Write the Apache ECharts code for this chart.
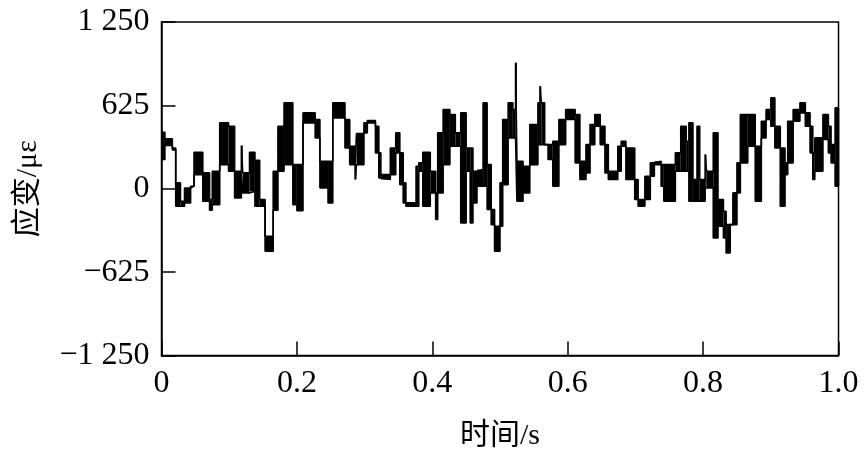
<!DOCTYPE html>
<html>
<head>
<meta charset="utf-8">
<script src="https://cdn.jsdelivr.net/npm/echarts@6/dist/echarts.min.js"></script>
<style>html,body{margin:0;padding:0;background:#fff}#c{width:865px;height:460px}</style>
</head>
<body>
<div id="c"></div>
<script>
// time (s) at which each step segment starts
var segT = [
0.000,0.005,0.016,0.021,0.028,0.034,0.043,0.048,0.061,0.071,
0.075,0.086,0.099,0.108,0.118,0.120,0.130,0.138,0.145,0.153,
0.165,0.172,0.181,0.194,0.200,0.209,0.227,0.234,0.246,0.253,
0.271,0.278,0.286,0.288,0.299,0.304,0.316,0.321,0.324,0.338,
0.346,0.352,0.357,0.361,0.376,0.380,0.386,0.397,0.405,0.408,
0.416,0.426,0.434,0.442,0.450,0.456,0.460,0.466,0.475,0.481,
0.487,0.492,0.500,0.504,0.512,0.519,0.523,0.525,0.534,0.544,
0.556,0.559,0.561,0.566,0.571,0.578,0.587,0.597,0.611,0.618,
0.627,0.633,0.640,0.648,0.655,0.660,0.674,0.679,0.686,0.699,
0.704,0.714,0.722,0.728,0.738,0.742,0.759,0.767,0.775,0.779,
0.785,0.791,0.795,0.803,0.805,0.815,0.822,0.830,0.834,0.840,
0.844,0.850,0.855,0.866,0.877,0.886,0.893,0.900,0.906,0.914,
0.921,0.925,0.933,0.943,0.951,0.958,0.962,0.965,0.977,0.985,
0.989,0.995,1.000];
// upper envelope of strain (με) within each segment
var segHi = [
424,374,305,44,-94,6,19,274,119,-81,
131,494,469,131,324,119,274,214,-81,-356,
131,469,644,181,181,569,519,206,206,644,
519,319,181,414,494,511,469,269,106,306,
419,269,44,-106,169,194,274,131,-31,419,
594,556,419,569,306,306,131,144,644,181,
-156,-281,44,519,644,594,944,206,169,481,
644,769,644,331,331,356,519,594,556,206,
331,481,556,469,331,131,319,356,306,69,
-81,94,194,206,181,181,269,469,356,494,
69,469,69,256,131,419,-81,-169,-269,-269,
-31,194,556,556,319,506,594,681,469,306,
194,506,594,644,569,469,269,381,556,469,
331,606,19];
// lower envelope of strain (με) within each segment
var segLo = [
219,324,290,-131,-131,-106,19,106,-94,-161,
-119,181,131,-69,119,-31,-19,-131,-131,-469,
-161,131,181,-119,-164,494,381,6,-106,531,
306,181,69,181,419,494,269,81,69,106,
269,31,-106,-131,-131,131,-131,-31,-231,-31,
181,319,319,-256,131,-256,-106,19,19,-156,
-269,-469,-281,31,381,381,381,-94,-31,181,
331,331,331,331,219,19,331,519,194,69,
119,331,469,331,119,69,131,319,69,-81,
-131,-81,94,181,19,-94,131,131,131,-94,
-94,-94,-94,6,6,-369,-281,-369,-481,-269,
-269,-31,194,319,-94,381,519,469,306,-131,
106,194,506,569,469,269,69,131,369,269,
194,19,19];

var xTickValues = [0, 0.2, 0.4, 0.6, 0.8, 1.0];
var xTickLabels = ['0', '0.2', '0.4', '0.6', '0.8', '1.0'];
var yTickValues = [-1250, -625, 0, 625, 1250];
var yTickLabels = ['\u22121 250', '\u2212625', '0', '625', '1 250'];

var hiData = segT.map(function (t, i) { return [t, segHi[i]]; });
var loData = segT.map(function (t, i) { return [t, segLo[i]]; });
var bandData = [];
for (var i = 0; i < segT.length - 1; i++) {
  bandData.push([segT[i], segT[i + 1], segHi[i], segLo[i]]);
}

function lookup(vals, labs, v) {
  for (var i = 0; i < vals.length; i++) if (Math.abs(vals[i] - v) < 1e-6) return labs[i];
  return '';
}

var FONT = "'Liberation Serif','Noto Sans CJK SC',serif";
var chart = echarts.init(document.getElementById('c'), null, {renderer: 'canvas'});
chart.setOption({
  animation: false,
  backgroundColor: '#fff',
  grid: {left: 161.5, right: 26.5, top: 22, bottom: 104.5, show: true,
         borderColor: '#000', borderWidth: 1.5, backgroundColor: 'transparent'},
  xAxis: {
    type: 'value', min: 0, max: 1, interval: 0.2,
    name: '时间/s', nameLocation: 'middle', nameGap: 66,
    nameTextStyle: {fontFamily: FONT, fontSize: 30, color: '#000'},
    axisLine: {show: true, onZero: false, lineStyle: {color: '#000', width: 1.5}},
    axisTick: {show: true, inside: true, length: 14, lineStyle: {color: '#000', width: 1.5}},
    axisLabel: {margin: 12, fontFamily: FONT, fontSize: 32, color: '#000',
      formatter: function (v) { return lookup(xTickValues, xTickLabels, v); }},
    splitLine: {show: false}
  },
  yAxis: {
    type: 'value', min: -1250, max: 1250, interval: 625,
    name: '应变/με', nameLocation: 'middle', nameGap: 118,
    nameTextStyle: {fontFamily: FONT, fontSize: 30, color: '#000'},
    axisLine: {show: true, onZero: false, lineStyle: {color: '#000', width: 1.5}},
    axisTick: {show: true, inside: true, length: 14, lineStyle: {color: '#000', width: 1.5}},
    axisLabel: {margin: 12, fontFamily: FONT, fontSize: 32, color: '#000',
      formatter: function (v) { return lookup(yTickValues, yTickLabels, v); }},
    splitLine: {show: false}
  },
  series: [
    {type: 'custom', data: bandData, encode: {x: [0, 1], y: [2, 3]}, z: 2,
     renderItem: function (params, api) {
       var p1 = api.coord([api.value(0), api.value(2)]);
       var p2 = api.coord([api.value(1), api.value(3)]);
       return {type: 'rect', shape: {x: p1[0], y: p1[1], width: p2[0] - p1[0], height: p2[1] - p1[1]},
               style: {fill: '#000'}};
     }},
    {type: 'line', data: hiData, step: 'end', symbol: 'none',
     lineStyle: {color: '#000', width: 1.6}, z: 3},
    {type: 'line', data: loData, step: 'end', symbol: 'none',
     lineStyle: {color: '#000', width: 1.6}, z: 3}
  ]
});
</script>
</body>
</html>
